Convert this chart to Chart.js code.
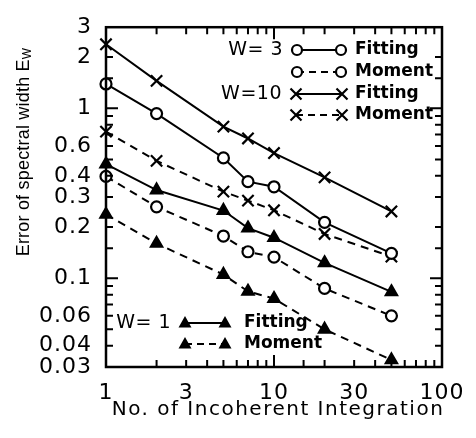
<!DOCTYPE html>
<html>
<head>
<meta charset="utf-8">
<script src="https://cdn.jsdelivr.net/npm/chart.js@4.4.0/dist/chart.umd.min.js"></script>
<style>
  html, body { margin: 0; padding: 0; background: #fff; }
  #wrap { width: 476px; height: 438px; }
</style>
</head>
<body>
<div id="wrap"><canvas id="chart" width="476" height="438"></canvas></div>
<script>
// number of incoherent integrations (x) and error of spectral width (y)
const integrations = [1, 2, 5, 7, 10, 20, 50];
const fitW3 = [1.39, 0.93, 0.51, 0.37, 0.345, 0.213, 0.140];
const momW3 = [0.397, 0.263, 0.177, 0.143, 0.133, 0.087, 0.060];
const fitW10 = [2.38, 1.45, 0.78, 0.664, 0.545, 0.392, 0.247];
const momW10 = [0.728, 0.49, 0.323, 0.286, 0.251, 0.182, 0.134];
const fitW1 = [0.469, 0.33, 0.25, 0.197, 0.173, 0.123, 0.083];
const momW1 = [0.237, 0.16, 0.105, 0.0836, 0.0758, 0.050, 0.033];

const xTickLabels = [1, 3, 10, 30, 100];
const yTickLabels = [0.03, 0.04, 0.06, 0.1, 0.2, 0.3, 0.4, 0.6, 1, 2, 3];

const FONT = "'DejaVu Sans'";
const DASH = [8, 6];

function fmt(v) {
    if (v >= 1) return String(Math.round(v));
    return v.toFixed(2).replace(/0$/, '');
}
function inList(list, v) {
    return list.some(l => Math.abs(l - v) < l * 1e-6);
}

function makeSet(label, values, style, dashed) {
    const open = style === 'circle';
    return {
        label: label,
        data: integrations.map((x, i) => ({ x: x, y: values[i] })),
        borderColor: '#000',
        borderWidth: 2,
        borderDash: dashed ? DASH : [],
        pointStyle: style,
        pointRadius: style === 'crossRot' ? 8 : (style === 'triangle' ? 6.5 : 5.5),
        pointBorderWidth: 2.2,
        pointBorderColor: '#000',
        pointBackgroundColor: open ? '#fff' : '#000',
        tension: 0,
        clip: false
    };
}

function drawMarker(ctx, style, x, y) {
    ctx.save();
    ctx.setLineDash([]);
    ctx.lineWidth = 2.2;
    ctx.strokeStyle = '#000';
    ctx.fillStyle = '#000';
    ctx.beginPath();
    if (style === 'circle') {
        ctx.fillStyle = '#fff';
        ctx.arc(x, y, 5, 0, Math.PI * 2);
        ctx.fill();
        ctx.stroke();
    } else if (style === 'crossRot') {
        const r = 5.5;
        ctx.moveTo(x - r, y - r); ctx.lineTo(x + r, y + r);
        ctx.moveTo(x + r, y - r); ctx.lineTo(x - r, y + r);
        ctx.stroke();
    } else {
        ctx.moveTo(x, y - 7); ctx.lineTo(x + 6.5, y + 4.5); ctx.lineTo(x - 6.5, y + 4.5);
        ctx.closePath();
        ctx.fill();
    }
    ctx.restore();
}

function legendRow(ctx, name, style, dashed, x1, x2, y, text, textX) {
    ctx.save();
    ctx.lineWidth = 2;
    ctx.strokeStyle = '#000';
    ctx.setLineDash(dashed ? [7, 5] : []);
    ctx.beginPath();
    ctx.moveTo(x1, y); ctx.lineTo(x2, y);
    ctx.stroke();
    ctx.restore();
    drawMarker(ctx, style, x1, y);
    drawMarker(ctx, style, x2, y);
    ctx.fillStyle = '#000';
    ctx.textBaseline = 'middle';
    ctx.textAlign = 'left';
    ctx.font = 'bold 17px ' + FONT;
    ctx.fillText(text, textX, y);
    if (name) {
        ctx.font = '19px ' + FONT;
        ctx.letterSpacing = '0.5px';
        ctx.textAlign = 'right';
        ctx.fillText(name, x1 - 14, y);
        ctx.letterSpacing = '0px';
    }
}

const framePlugin = {
    id: 'frame',
    beforeDraw(chart) {
        chart.ctx.letterSpacing = '1px';
    },
    afterDraw(chart) {
        const ctx = chart.ctx;
        const a = chart.chartArea;
        const xs = chart.scales.x, ys = chart.scales.y;
        ctx.save();
        ctx.letterSpacing = '0px';
        ctx.strokeStyle = '#000';
        ctx.lineWidth = 2.5;
        ctx.strokeRect(a.left, a.top, a.right - a.left, a.bottom - a.top);

        // inward ticks on all four sides
        ctx.lineWidth = 2;
        ctx.beginPath();
        xs.ticks.forEach(t => {
            const px = xs.getPixelForValue(t.value);
            if (px <= a.left + 1 || px >= a.right - 1) return;
            const len = Math.abs(Math.log10(t.value) % 1) < 1e-6 ? 12 : 7;
            ctx.moveTo(px, a.bottom); ctx.lineTo(px, a.bottom - len);
            ctx.moveTo(px, a.top); ctx.lineTo(px, a.top + len);
        });
        ys.ticks.forEach(t => {
            const py = ys.getPixelForValue(t.value);
            if (py <= a.top + 1 || py >= a.bottom - 1) return;
            const lg = Math.log10(t.value);
            const len = Math.abs(lg - Math.round(lg)) < 1e-6 ? 12 : 7;
            ctx.moveTo(a.left, py); ctx.lineTo(a.left + len, py);
            ctx.moveTo(a.right, py); ctx.lineTo(a.right - len, py);
        });
        ctx.stroke();

        // axis titles
        ctx.fillStyle = '#000';
        ctx.textBaseline = 'middle';
        ctx.textAlign = 'center';
        ctx.font = '20px ' + FONT;
        ctx.letterSpacing = '1.5px';
        ctx.fillText('No. of Incoherent Integration', 278, 410);

        ctx.save();
        ctx.letterSpacing = '0.2px';
        ctx.translate(24, 152);
        ctx.rotate(-Math.PI / 2);
        const TFONT = "'Liberation Sans'";
        ctx.font = '18px ' + TFONT;
        const main = 'Error of spectral width E';
        const w1 = ctx.measureText(main).width;
        ctx.font = '12px ' + TFONT;
        const w2 = ctx.measureText('W').width;
        const start = -(w1 + w2) / 2;
        ctx.textAlign = 'left';
        ctx.font = '18px ' + TFONT;
        ctx.fillText(main, start, 0);
        ctx.font = '12px ' + TFONT;
        ctx.fillText('W', start + w1, 4);
        ctx.restore();
        ctx.letterSpacing = '0px';

        // legends
        legendRow(ctx, 'W= 3', 'circle', false, 297, 341, 50, 'Fitting', 355);
        legendRow(ctx, '', 'circle', true, 297, 341, 72, 'Moment', 355);
        legendRow(ctx, 'W=10', 'crossRot', false, 296, 342, 94, 'Fitting', 355);
        legendRow(ctx, '', 'crossRot', true, 296, 342, 115, 'Moment', 355);
        legendRow(ctx, 'W= 1', 'triangle', false, 185, 225, 323, 'Fitting', 244);
        legendRow(ctx, '', 'triangle', true, 185, 225, 344, 'Moment', 244);
        ctx.restore();
    }
};

new Chart(document.getElementById('chart'), {
    type: 'line',
    data: {
        datasets: [
            makeSet('W=3 Fitting', fitW3, 'circle', false),
            makeSet('W=3 Moment', momW3, 'circle', true),
            makeSet('W=10 Fitting', fitW10, 'crossRot', false),
            makeSet('W=10 Moment', momW10, 'crossRot', true),
            makeSet('W=1 Fitting', fitW1, 'triangle', false),
            makeSet('W=1 Moment', momW1, 'triangle', true)
        ]
    },
    options: {
        responsive: false,
        animation: false,
        devicePixelRatio: 1,
        layout: { padding: { top: 17, right: 23, left: 0, bottom: 0 } },
        plugins: { legend: { display: false }, tooltip: { enabled: false } },
        scales: {
            x: {
                type: 'logarithmic',
                min: 1,
                max: 100,
                grid: { display: false, drawTicks: false },
                border: { display: false },
                ticks: {
                    autoSkip: false,
                    maxRotation: 0,
                    padding: 13,
                    color: '#000',
                    font: { family: FONT, size: 22 },
                    callback: v => inList(xTickLabels, v) ? fmt(v) : ''
                },
                afterFit: s => { s.height = 71; }
            },
            y: {
                type: 'logarithmic',
                min: 0.03,
                max: 3,
                grid: { display: false, drawTicks: false },
                border: { display: false },
                ticks: {
                    autoSkip: false,
                    padding: 14,
                    color: '#000',
                    font: { family: FONT, size: 22 },
                    callback: v => inList(yTickLabels, v) ? fmt(v) : ''
                },
                afterFit: s => { s.width = 106; }
            }
        }
    },
    plugins: [framePlugin]
});
</script>
</body>
</html>
